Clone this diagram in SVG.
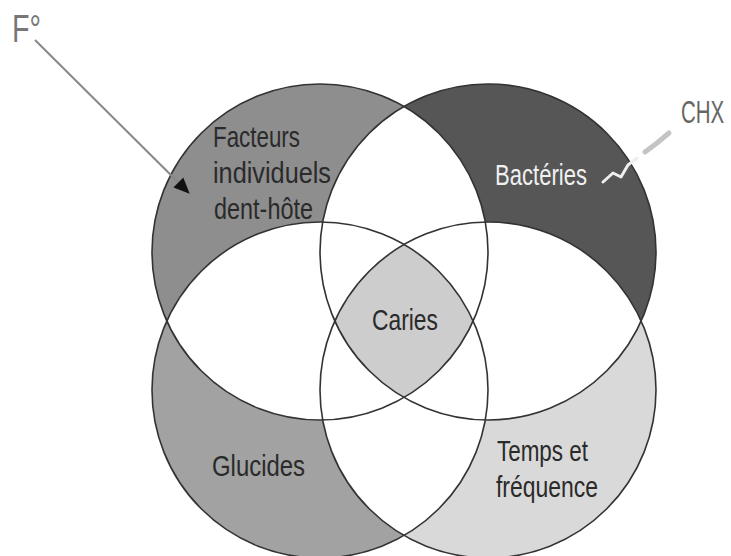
<svg xmlns="http://www.w3.org/2000/svg" width="731" height="556" viewBox="0 0 731 556">
  <style>
    .lbl { font-family: "Liberation Sans", Arial, sans-serif; font-size: 30px; }
    .dark { fill: #2a2a2a; }
    .light { fill: #f0f0f0; }
    .ring { fill: none; stroke: #333; stroke-width: 1.6; }
    .white { fill: #ffffff; }
  </style>
  <defs>
    <clipPath id="cTL"><circle cx="320" cy="252" r="168"/></clipPath>
    <clipPath id="cTR"><circle cx="488" cy="252" r="168"/></clipPath>
    <clipPath id="cBL"><circle cx="320" cy="390" r="168"/></clipPath>
    <marker id="arr" markerWidth="16" markerHeight="16" refX="15" refY="8" orient="auto" markerUnits="userSpaceOnUse">
      <path d="M0,1 L16,8 L0,15 Z" fill="#111"/>
    </marker>
  </defs>
  <rect width="731" height="556" fill="#ffffff"/>

  <g id="regions">
    <circle cx="320" cy="252" r="168" fill="#8e8e8e"/>
    <circle cx="488" cy="252" r="168" fill="#565656"/>
    <circle cx="320" cy="390" r="168" fill="#a2a2a2"/>
    <circle cx="488" cy="390" r="168" fill="#d9d9d9"/>
    <circle class="white" cx="488" cy="252" r="168" clip-path="url(#cTL)"/>
    <circle class="white" cx="320" cy="390" r="168" clip-path="url(#cTL)"/>
    <circle class="white" cx="488" cy="390" r="168" clip-path="url(#cTL)"/>
    <circle class="white" cx="320" cy="390" r="168" clip-path="url(#cTR)"/>
    <circle class="white" cx="488" cy="390" r="168" clip-path="url(#cTR)"/>
    <circle class="white" cx="488" cy="390" r="168" clip-path="url(#cBL)"/>
    <path id="caries-area" d="M404,244.5 A168,168 0 0 1 473.2,321 A168,168 0 0 1 404,397.5 A168,168 0 0 1 334.8,321 A168,168 0 0 1 404,244.5 Z" fill="#cdcdcd"/>
    <circle class="ring" cx="320" cy="252" r="168"/>
    <circle class="ring" cx="488" cy="252" r="168"/>
    <circle class="ring" cx="320" cy="390" r="168"/>
    <circle class="ring" cx="488" cy="390" r="168"/>
  </g>

  <g id="facteurs">
    <text class="lbl dark" x="213" y="147" textLength="87" lengthAdjust="spacingAndGlyphs">Facteurs</text>
    <text class="lbl dark" x="213" y="183" textLength="118" lengthAdjust="spacingAndGlyphs">individuels</text>
    <text class="lbl dark" x="214" y="219" textLength="99" lengthAdjust="spacingAndGlyphs">dent-hôte</text>
  </g>
  <g id="bacteries">
    <text class="lbl light" x="495" y="185" textLength="92" lengthAdjust="spacingAndGlyphs">Bactéries</text>
  </g>
  <g id="caries">
    <text class="lbl dark" x="372" y="330" textLength="66" lengthAdjust="spacingAndGlyphs">Caries</text>
  </g>
  <g id="glucides">
    <text class="lbl dark" x="212" y="476" textLength="93" lengthAdjust="spacingAndGlyphs">Glucides</text>
  </g>
  <g id="temps">
    <text class="lbl dark" x="497" y="461" textLength="91" lengthAdjust="spacingAndGlyphs">Temps et</text>
    <text class="lbl dark" x="496" y="497" textLength="102" lengthAdjust="spacingAndGlyphs">fréquence</text>
  </g>
  <g id="fluor">
    <text x="12" y="42" font-family="Liberation Sans, Arial, sans-serif" font-size="38" fill="#777" textLength="29" lengthAdjust="spacingAndGlyphs">F°</text>
  </g>
  <g id="chx">
    <text transform="translate(681,123) scale(0.66,1)" x="0" y="0" font-family="Liberation Sans, Arial, sans-serif" font-size="31" fill="#666">CHX</text>
  </g>

  <g id="connectors">
    <line x1="35" y1="40" x2="189" y2="193" stroke="#888" stroke-width="2" marker-end="url(#arr)"/>
    <polyline points="669,133 657,143 645,152" fill="none" stroke="#c4c4c4" stroke-width="5" stroke-linecap="round"/>
    <polyline points="637,158 628,165 621,177 613,173 603,182" fill="none" stroke="#eeeeee" stroke-width="3" stroke-linejoin="round" stroke-linecap="round"/>
  </g>
</svg>
